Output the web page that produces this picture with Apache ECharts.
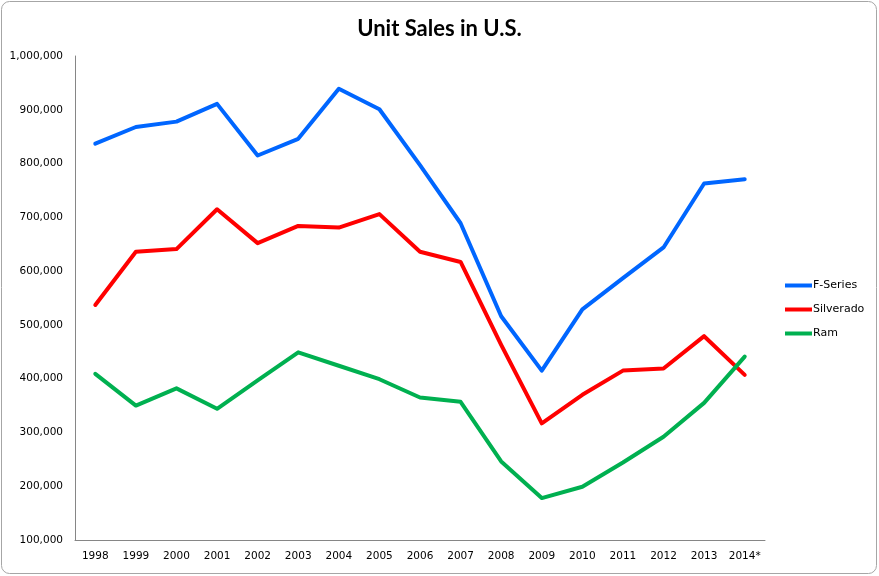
<!DOCTYPE html>
<html>
<head>
<meta charset="utf-8">
<script src="https://cdn.jsdelivr.net/npm/echarts@6/dist/echarts.min.js"></script>
<style>
html,body{margin:0;padding:0;background:#fff;}
#main{width:879px;height:576px;}
</style>
</head>
<body>
<div id="main"></div>
<script>
const years = ['1998','1999','2000','2001','2002','2003','2004','2005','2006','2007','2008','2009','2010','2011','2012','2013','2014*'];
const fSeries = [837000,868000,878000,911000,815000,846000,939000,901000,797000,689000,516000,415000,529000,587000,644000,763000,771000];
const silverado = [537000,636000,641000,715000,652000,684000,681000,706000,636000,617000,463000,317000,370000,415000,419000,479000,407000];
const ram = [409000,350000,382000,344000,397000,449000,424000,399000,365000,357000,246000,178000,199000,244000,292000,355000,441000];
const yMin = 100000, yMax = 1000000, yStep = 100000;

const chart = echarts.init(document.getElementById('main'));
const lbl = {fontFamily:'DejaVu Sans', fontSize:10.5, color:'#000'};
function mk(name, data, color){
  return {name, type:'line', data, symbol:'none', smooth:false,
    lineStyle:{width:4, color, cap:'round', join:'round'}, itemStyle:{color}};
}
chart.setOption({
  animation:false,
  backgroundColor:'#fff',
  graphic:[{type:'rect', shape:{x:1.5,y:1.5,width:875,height:572,r:8},
    style:{fill:'none', stroke:'#a6a6a6', lineWidth:1}, silent:true}],
  title:{text:'Unit Sales in U.S.', left:'center', top:13,
    textStyle:{fontFamily:'Lato', fontWeight:'bold', fontSize:22, color:'#000'}},
  grid:{left:75, right:114, top:56, bottom:36},
  legend:{orient:'vertical', left:780, top:274, itemWidth:27, itemHeight:4, itemGap:11,
    icon:'rect', textStyle:{fontFamily:'DejaVu Sans', fontSize:11, lineHeight:13, color:'#000', padding:[0,0,0,-4]},
    data:['F-Series','Silverado','Ram']},
  xAxis:{type:'category', data:years, boundaryGap:true,
    axisLine:{lineStyle:{color:'#868686', width:1}}, axisTick:{show:false},
    axisLabel:Object.assign({interval:0, margin:11}, lbl)},
  yAxis:{type:'value', min:yMin, max:yMax, interval:yStep,
    axisLine:{show:true, lineStyle:{color:'#868686', width:1}}, axisTick:{show:false},
    splitLine:{show:false},
    axisLabel:Object.assign({margin:12, formatter:v=>v.toLocaleString('en-US')}, lbl)},
  series:[mk('F-Series', fSeries, '#0066ff'), mk('Silverado', silverado, '#ff0000'), mk('Ram', ram, '#00b050')]
});
</script>
</body>
</html>
